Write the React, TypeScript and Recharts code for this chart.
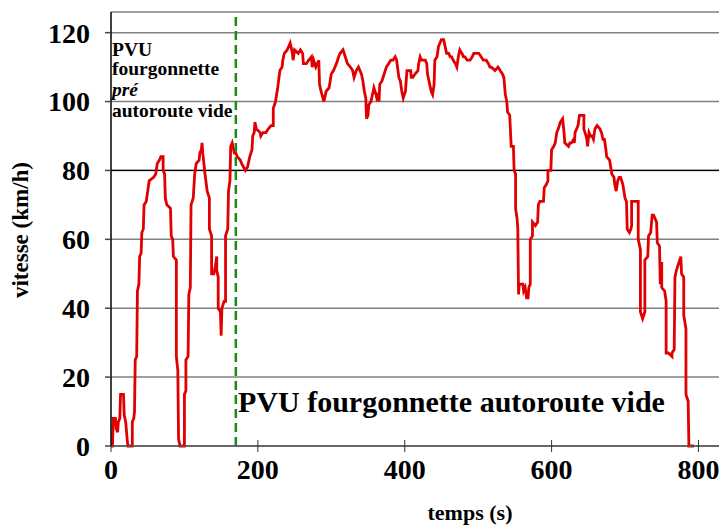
import type { CSSProperties } from 'react';
import { CartesianGrid, Line, LineChart, ReferenceLine, XAxis, YAxis } from 'recharts';

// time (s) and speed (km/h) in drawing order
const times = [
  0, 2, 3, 6, 7, 9, 10, 12, 13, 17, 18, 20, 22, 23, 29, 29, 31, 32, 33, 35, 36, 38, 39, 41, 42, 44, 45, 48,
  50, 52, 58, 61, 63, 66, 68, 71, 71, 73, 74, 76, 81, 82, 84, 85, 89, 89, 91, 92, 94, 100, 100, 102, 102,
  105, 106, 108, 109, 112, 114, 116, 120, 121, 123, 124, 125, 128, 131, 134, 134, 137, 137, 140, 142, 144,
  144, 146, 146, 149, 150, 151, 154, 156, 156, 159, 160, 162, 163, 165, 168, 170, 172, 176, 178, 183, 186,
  188, 189, 192, 193, 195, 196, 198, 203, 204, 207, 211, 214, 218, 221, 221, 224, 227, 230, 233, 234, 236,
  240, 244, 247, 248, 250, 255, 258, 261, 262, 266, 269, 273, 274, 276, 279, 283, 284, 286, 290, 293, 297,
  300, 303, 307, 310, 312, 316, 319, 322, 326, 329, 331, 334, 337, 341, 343, 345, 347, 348, 350, 351, 354,
  356, 358, 361, 362, 364, 365, 366, 369, 372, 375, 378, 381, 384, 387, 389, 392, 394, 396, 398, 401, 403,
  405, 408, 409, 411, 414, 418, 419, 421, 423, 426, 428, 430, 431, 434, 436, 438, 440, 441, 444, 446, 448,
  450, 453, 455, 457, 460, 462, 464, 466, 469, 471, 473, 475, 478, 480, 482, 485, 489, 492, 494, 501, 504,
  507, 511, 514, 516, 518, 523, 527, 530, 533, 535, 537, 539, 540, 543, 545, 548, 549, 551, 551, 553, 554,
  555, 556, 561, 562, 564, 566, 568, 569, 571, 571, 574, 574, 578, 581, 582, 584, 589, 590, 593, 595, 595,
  599, 600, 603, 605, 607, 609, 612, 615, 617, 618, 623, 625, 627, 630, 631, 632, 636, 638, 644, 644, 647,
  648, 649, 651, 653, 655, 657, 659, 662, 666, 668, 670, 672, 674, 675, 679, 682, 685, 686, 688, 690, 692,
  694, 697, 700, 702, 703, 706, 708, 709, 709, 718, 718, 721, 721, 724, 727, 727, 731, 732, 735, 737, 739,
  743, 744, 747, 748, 749, 750, 750, 754, 756, 756, 759, 764, 764, 767, 768, 770, 773, 776, 777, 780, 780,
  783, 783, 786, 787, 794,
];
const speeds = [
  0, 0, 8, 8, 5, 4, 7, 8, 15, 15, 9, 7, 2, 0, 0, 7, 8, 10, 25, 26, 45, 47, 55, 56, 62, 63, 70, 71,
  74, 77, 78, 79, 82, 83, 84, 84, 80, 79, 72, 70, 69, 61, 60, 55, 54, 26, 22, 2, 0, 0, 15, 16, 25,
  26, 44, 46, 70, 72, 79, 82, 83, 85, 86, 88, 85, 79, 74, 72, 63, 61, 50, 50, 52, 55,
  51, 49, 40, 39, 32, 40, 42, 42, 61, 63, 74, 77, 87, 88, 85, 85, 84, 83, 82, 80, 81,
  83, 84, 86, 90, 91, 94, 92, 91, 90, 91, 91, 92, 93, 93, 98, 100, 104, 109, 110, 112, 114,
  115, 117, 114, 112, 115, 114, 115, 114, 111, 111, 112, 113, 110, 112, 110, 112, 105, 103, 100, 103, 104,
  108, 109, 111, 113, 114, 115, 113, 111, 110, 109, 107, 109, 110, 108, 106, 103, 101, 95, 96, 99, 100,
  102, 104, 102, 101, 102, 100, 105, 106, 108, 110, 111, 112, 112, 113, 112, 107, 106, 103, 101, 103, 109,
  109, 109, 107, 107, 108, 109, 111, 113, 112, 112, 112, 111, 108, 105, 103, 102, 105, 112, 113, 116, 117,
  118, 118, 116, 114, 114, 113, 113, 112, 111, 110, 113, 115, 114, 113, 113, 112, 112, 113, 114, 114, 113,
  112, 112, 111, 110, 110, 109, 110, 109, 108, 107, 102, 100, 97, 96, 87, 87, 80, 79, 69, 66, 63,
  44, 47, 47, 45, 46, 43, 43, 46, 47, 60, 61, 65, 64, 65, 70, 71, 71, 75, 76, 77, 80,
  80, 86, 87, 88, 91, 92, 94, 95, 91, 88, 87, 88, 88, 89, 88, 91, 93, 96, 96, 92, 90,
  89, 87, 91, 90, 90, 89, 92, 93, 92, 91, 89, 89, 86, 84, 83, 79, 78, 76, 74, 77, 78,
  78, 76, 72, 71, 63, 62, 63, 64, 71, 71, 60, 57, 39, 37, 39, 54, 55, 61, 62, 67, 67,
  65, 59, 58, 47, 53, 53, 46, 45, 42, 27, 27, 26, 27, 28, 49, 51, 53, 55, 50, 49, 38,
  34, 15, 13, 0, 0,
];
const xTicks = [0, 200, 400, 600, 800];
const yTicks = [0, 20, 40, 60, 80, 100, 120];
const switchTime = 170;

const data = times.map((t, i) => ({ t, v: speeds[i] }));

const serif = '"Liberation Serif", "Times New Roman", serif';

const XTick = ({ x, y, payload }: any) => (
  <g>
    <line x1={x} x2={x} y1={y - 6} y2={y + 6} stroke="#333" strokeWidth={1} />
    <text
      x={x}
      y={y + 23}
      textAnchor="middle"
      dominantBaseline="central"
      fontFamily={serif}
      fontWeight="bold"
      fontSize={28}
      fill="#000"
    >
      {payload.value}
    </text>
  </g>
);

const note = (top: number, left: number, size: number, extra?: CSSProperties): CSSProperties => ({
  position: 'absolute',
  top,
  left,
  fontFamily: serif,
  fontWeight: 'bold',
  fontSize: size,
  lineHeight: 1,
  whiteSpace: 'nowrap',
  color: '#000',
  ...extra,
});

export default function App() {
  return (
    <div style={{ position: 'absolute', left: 0, top: 0, width: 719, height: 527, background: '#fff' }}>
      <LineChart width={719} height={527} data={data} margin={{ top: 12, right: 0, left: 0, bottom: 0 }}>
        <CartesianGrid vertical={false} stroke="#808080" strokeWidth={1.5} />
        <XAxis
          type="number"
          dataKey="t"
          domain={[0, 828]}
          ticks={xTicks}
          height={81}
          tickSize={0}
          tickMargin={0}
          tick={<XTick />}
          axisLine={{ stroke: '#555', strokeWidth: 1.5 }}
          tickLine={false}
        />
        <YAxis
          type="number"
          domain={[0, 126]}
          ticks={yTicks}
          width={111}
          tickSize={6}
          tickMargin={15}
          tick={{ fontFamily: serif, fontWeight: 'bold', fontSize: 28, fill: '#000' }}
          axisLine={{ stroke: '#000', strokeWidth: 1.5 }}
          tickLine={{ stroke: '#444', strokeWidth: 1.5 }}
        />
        <ReferenceLine y={80} stroke="#000" strokeWidth={1.2} />
        <Line
          type="linear"
          dataKey="v"
          stroke="#e00000"
          strokeWidth={2.8}
          dot={false}
          isAnimationActive={false}
        />
        <ReferenceLine x={switchTime} stroke="#1a8c1a" strokeWidth={2.5} strokeDasharray="9 5" />
      </LineChart>

      <div style={note(40, 112, 19.5)}>PVU</div>
      <div style={note(59, 112, 19.5)}>fourgonnette</div>
      <div style={note(80, 112, 19.5, { fontStyle: 'italic' })}>pré</div>
      <div style={note(101, 112, 19.5)}>autoroute vide</div>

      <div style={note(387, 238, 30)}>PVU fourgonnette autoroute vide</div>

      <div style={note(502, 470, 22, { transform: 'translateX(-50%)' })}>temps (s)</div>
      <div
        style={note(230, 20, 23, {
          transform: 'translate(-50%, -50%) rotate(-90deg)',
        })}
      >
        vitesse (km/h)
      </div>
    </div>
  );
}
